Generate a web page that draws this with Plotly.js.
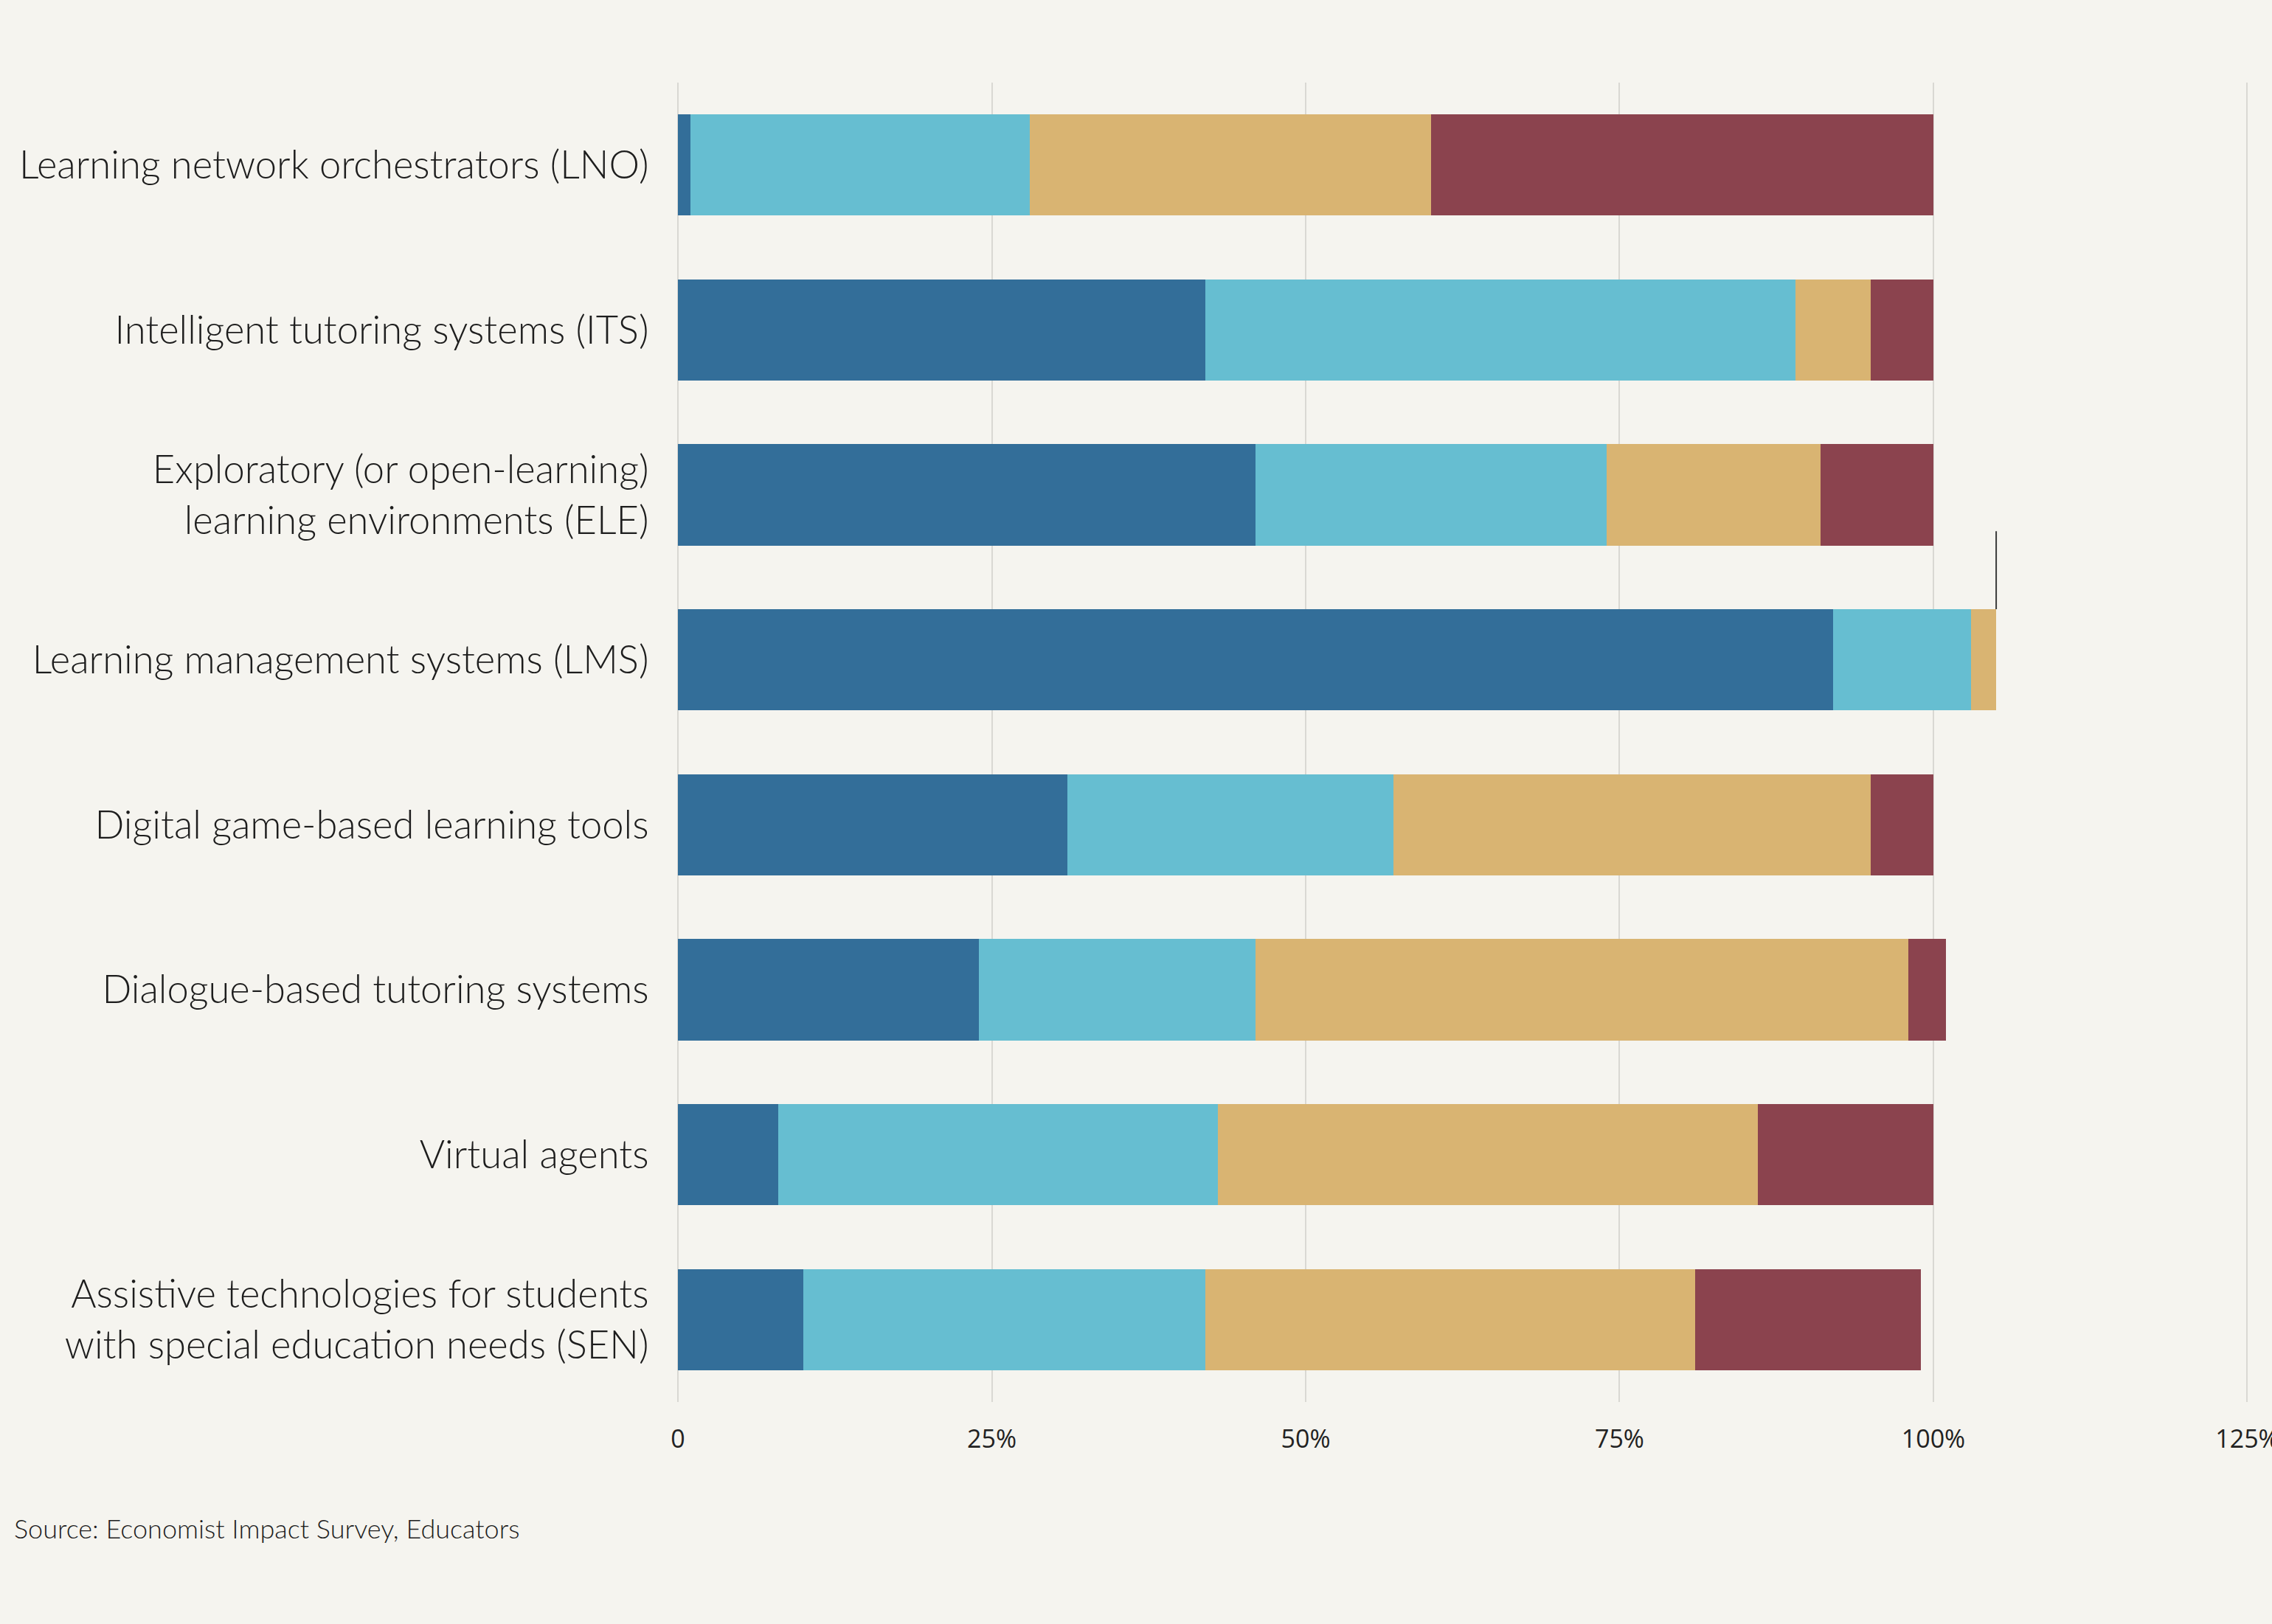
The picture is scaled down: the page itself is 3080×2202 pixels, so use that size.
<!DOCTYPE html>
<html>
<head>
<meta charset="utf-8">
<script src="https://cdn.plot.ly/plotly-3.0.1.min.js"></script>
<style>html,body{margin:0;padding:0;background:#f5f4ef;}#chart{width:3080px;height:2202px;}</style>
</head>
<body>
<div id="chart"></div>
<script>
const categories = [
  "Learning network orchestrators (LNO)",
  "Intelligent tutoring systems (ITS)",
  "Exploratory (or open-learning)<br>learning environments (ELE)",
  "Learning management systems (LMS)",
  "Digital game-based learning tools",
  "Dialogue-based tutoring systems",
  "Virtual agents",
  "Assistive technologies for students<br>with special education needs (SEN)"
];
const seriesA = [1, 42, 46, 92, 31, 24, 8, 10];
const seriesB = [27, 47, 28, 11, 26, 22, 35, 32];
const seriesC = [32, 6, 17, 2, 38, 52, 43, 39];
const seriesD = [40, 5, 9, 0, 5, 3, 14, 18];
const colors = ["#336e99", "#66bed1", "#d9b472", "#8b434e"];
const tickVals = [0, 25, 50, 75, 100, 125];
const tickText = ["0", "25%", "50%", "75%", "100%", "125%"];

const all = [seriesA, seriesB, seriesC, seriesD];
const traces = all.map((vals, i) => ({
  type: "bar",
  orientation: "h",
  y: categories,
  x: vals,
  marker: {color: colors[i], line: {width: 0}},
  hoverinfo: "x+y",
  showlegend: false
}));

const lmsIdx = 3;
const lmsTotal = seriesA[lmsIdx] + seriesB[lmsIdx] + seriesC[lmsIdx] + seriesD[lmsIdx];

const layout = {
  width: 3080,
  height: 2202,
  paper_bgcolor: "#f5f4ef",
  plot_bgcolor: "#f5f4ef",
  barmode: "stack",
  bargap: 0.386,
  margin: {l: 919, r: 25, t: 112, b: 301},
  font: {family: "Lato, 'Open Sans', sans-serif", color: "#1d1d1d"},
  xaxis: {
    range: [0, 125.5],
    tickvals: tickVals,
    ticktext: tickText,
    showgrid: true,
    gridcolor: "#d9d8d3",
    gridwidth: 2,
    zeroline: true,
    zerolinecolor: "#d9d8d3",
    zerolinewidth: 2,
    showline: false,
    ticks: "outside",
    ticklen: 20,
    tickcolor: "rgba(0,0,0,0)",
    ticklabeloverflow: "allow",
    tickfont: {size: 34, color: "#222", family: "'Open Sans', sans-serif"},
    fixedrange: true
  },
  yaxis: {
    type: "category",
    autorange: "reversed",
    showgrid: false,
    zeroline: false,
    showline: false,
    ticks: "outside",
    ticklen: 28,
    tickcolor: "rgba(0,0,0,0)",
    tickfont: {size: 52.5, color: "#1d1d1d", family: "Lato, sans-serif", weight: 300},
    fixedrange: true
  },
  shapes: [{
    type: "line",
    xref: "x", yref: "y",
    x0: lmsTotal, x1: lmsTotal,
    y0: lmsIdx - 0.78, y1: lmsIdx - 0.307,
    line: {color: "#3a3a3a", width: 2}
  }],
  annotations: [{
    text: "Source: Economist Impact Survey, Educators",
    xref: "paper", yref: "paper",
    x: -0.4225, y: -0.0955,
    xanchor: "left", yanchor: "middle",
    showarrow: false,
    font: {size: 36, color: "#1d1d1d", family: "Lato, sans-serif", weight: 300}
  }]
};

Plotly.newPlot("chart", traces, layout, {displayModeBar: false, staticPlot: true});
</script>
</body>
</html>
